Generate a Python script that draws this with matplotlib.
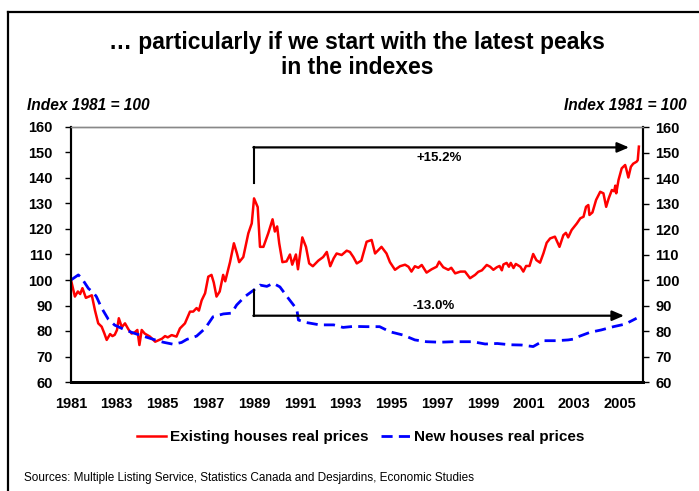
import matplotlib
matplotlib.use("Agg")
import matplotlib.pyplot as plt
from matplotlib.lines import Line2D

plt.rcParams['font.family'] = ['Liberation Sans', 'DejaVu Sans']
plt.rcParams['lines.scale_dashes'] = False

# Existing houses real prices (index 1981 = 100)
existing_years = [
    1981.0, 1981.17, 1981.3, 1981.4, 1981.5, 1981.65, 1981.91, 1982.05, 1982.19, 1982.34,
    1982.46, 1982.56, 1982.71, 1982.81, 1982.91, 1983.01, 1983.09, 1983.22, 1983.36, 1983.52,
    1983.65, 1983.79, 1983.9, 1983.99, 1984.09, 1984.22, 1984.45, 1984.68, 1984.83, 1984.98,
    1985.11, 1985.23, 1985.4, 1985.61, 1985.76, 1985.98, 1986.2, 1986.34, 1986.49, 1986.59,
    1986.71, 1986.86, 1987.0, 1987.14, 1987.24, 1987.36, 1987.5, 1987.65, 1987.74, 1987.95,
    1988.12, 1988.25, 1988.35, 1988.53, 1988.75, 1988.9, 1989.0, 1989.16, 1989.26, 1989.41,
    1989.62, 1989.81, 1989.91, 1990.01, 1990.1, 1990.24, 1990.42, 1990.57, 1990.67, 1990.83,
    1990.92, 1991.11, 1991.27, 1991.41, 1991.57, 1991.81, 1992.02, 1992.18, 1992.33, 1992.48,
    1992.61, 1992.83, 1993.05, 1993.19, 1993.34, 1993.49, 1993.69, 1993.92, 1994.14, 1994.29,
    1994.57, 1994.79, 1994.94, 1995.16, 1995.38, 1995.6, 1995.75, 1995.88, 1996.03, 1996.18,
    1996.33, 1996.54, 1996.76, 1996.98, 1997.09, 1997.27, 1997.49, 1997.62, 1997.79, 1998.02,
    1998.22, 1998.44, 1998.66, 1998.8, 1998.96, 1999.17, 1999.32, 1999.46, 1999.61, 1999.73,
    1999.83, 1999.9, 2000.04, 2000.14, 2000.22, 2000.34, 2000.44, 2000.64, 2000.77, 2000.89,
    2001.04, 2001.2, 2001.34, 2001.5, 2001.65, 2001.79, 2001.94, 2002.15, 2002.35, 2002.52,
    2002.63, 2002.73, 2002.88, 2003.11, 2003.26, 2003.4, 2003.51, 2003.61, 2003.66, 2003.79,
    2003.95, 2004.13, 2004.27, 2004.39, 2004.5, 2004.64, 2004.74, 2004.79, 2004.83, 2004.93,
    2005.07, 2005.22, 2005.27, 2005.36, 2005.47, 2005.57, 2005.72, 2005.77, 2005.82,
]
existing_vals = [
    100, 93.5, 95.5, 94.5, 96.8, 93, 94, 88, 83, 81.7,
    79, 76.5, 78.8, 78, 78.5, 80.4, 85, 81.5, 83, 80.5,
    79, 79.5, 80.4, 74.5, 80.4, 79, 77.8, 75.8, 76.4, 77,
    78, 77.5, 78.4, 77.8, 81, 83, 87.6, 87.6, 89, 88,
    92, 94.8, 101.3, 102, 99, 93.5, 95.5, 102, 99.5, 107,
    114.4, 110.5, 107, 109, 118.3, 122.2, 132, 128.6, 113, 113,
    118.3, 123.8, 119, 121, 114.4, 107, 107.3, 110, 106, 110,
    104.2, 116.7, 113, 106.5, 105.4, 107.6, 109, 111, 105.4, 108.5,
    110.4, 109.8, 111.5, 111, 109, 106.5, 107.6, 115, 115.7, 110.4,
    113, 110.4, 107, 104, 105.4, 106, 105.2, 103.3, 105.4, 104.8,
    105.9, 102.9, 104.2, 105.2, 107.2, 105, 104, 104.8, 102.6, 103.3,
    103.3, 100.7, 102, 103.2, 103.8, 105.9, 105.2, 104, 105, 105.5,
    103.8, 106.1, 106.7, 105.2, 106.7, 104.7, 106.3, 105.2, 103.3, 105.5,
    105.5, 110.2, 107.8, 106.8, 110.5, 114.6, 116.3, 117, 113, 117.6,
    118.5, 116.7, 119.6, 122.2, 124.2, 124.8, 128.7, 129.4, 125.5, 126.5,
    131.4, 134.6, 134, 128.7, 132, 135.3, 134.8, 137, 134, 139.2,
    143.8, 145.1, 143.5, 140.2, 144.4, 145.6, 146.4, 147, 152.3,
]

# New houses real prices
new_years = [
    1981.0, 1981.32, 1981.46, 1981.76, 1981.98, 1982.11, 1982.34, 1982.63, 1982.91, 1983.37,
    1983.8, 1984.22, 1984.68, 1985.03, 1985.47, 1985.83, 1986.06, 1986.49, 1986.86, 1987.21,
    1987.66, 1988.02, 1988.24, 1988.6, 1988.98, 1989.26, 1989.56, 1989.84, 1990.13, 1990.5,
    1990.87, 1990.94, 1991.3, 1991.87, 1992.48, 1992.89, 1993.34, 1993.92, 1994.49, 1994.94,
    1995.52, 1996.03, 1996.54, 1997.12, 1997.72, 1998.12, 1998.56, 1999.1, 1999.63, 2000.19,
    2000.69, 2001.2, 2001.65, 2002.22, 2002.73, 2002.95, 2003.18, 2003.69, 2004.17, 2004.71,
    2005.22, 2005.72,
]
new_vals = [
    100, 102, 100.8, 96.7, 95, 93.5, 89, 84.6, 82.3, 80.4,
    79, 77.8, 76.5, 75.6, 74.8, 75.5, 76.7, 78, 81, 85.6,
    86.7, 87, 90.2, 93.5, 96, 98, 97.5, 98.7, 97.3, 92.8,
    88.5, 84.3, 83.3, 82.4, 82.4, 81.4, 81.8, 81.7, 81.7, 79.7,
    78.4, 76.5, 75.8, 75.6, 75.8, 75.8, 75.8, 74.9, 75.1, 74.6,
    74.5, 73.9, 76.2, 76.2, 76.5, 76.8, 77.8, 79.5, 80.4, 81.7,
    82.7, 85,
]

year_ticks = list(range(1981, 2006, 2))
y_ticks = list(range(60, 161, 10))

# arrows from the 1989 peaks to the latest values
peak_year = 1989.0
up_arrow = {"y0": 138, "y": 152, "end": 2005.39, "label": "+15.2%", "lx": 1997.09, "ly": 147.8}
down_arrow = {"y0": 96, "y": 86, "end": 2005.17, "label": "-13.0%", "lx": 1996.87, "ly": 89.8}

fig = plt.figure(figsize=(6.99, 4.91), dpi=100)
ax = fig.add_axes([71 / 699, 1 - 382 / 491, 572 / 699, 255 / 491])

ax.plot(existing_years, existing_vals, color='#ff0000', lw=1.8,
        label='Existing houses real prices')
ax.plot(new_years, new_vals, color='#0000ff', lw=2.0, dashes=(8, 4.5),
        label='New houses real prices')

for arr in (up_arrow, down_arrow):
    ax.plot([peak_year, peak_year], [arr["y0"], arr["y"]], color='black', lw=1.5)
    ax.annotate('', xy=(arr["end"], arr["y"]), xytext=(peak_year - 0.03, arr["y"]),
                arrowprops=dict(arrowstyle='-|>,head_length=0.7,head_width=0.3',
                                color='black', lw=1.6, shrinkA=0, shrinkB=0))
    ax.text(arr["lx"], arr["ly"], arr["label"], ha='center', va='center',
            fontsize=9.5, fontweight='bold')

ax.set_xlim(1981, 2006)
ax.set_ylim(60, 160)
ax.set_xticks(year_ticks)
ax.set_xticklabels([str(y) for y in year_ticks])
ax.set_yticks(y_ticks)
ax.tick_params(axis='x', length=0, pad=11, labelsize=10.5)
ax.tick_params(axis='y', direction='out', length=4, width=1, pad=9, labelsize=10.5)

# right-hand scale
ax2 = ax.twinx()
ax2.set_ylim(60, 160)
ax2.set_yticks(y_ticks)
ax2.tick_params(axis='y', direction='out', length=4, width=1, pad=5, labelsize=10.5)

for lab in ax.get_xticklabels() + ax.get_yticklabels() + ax2.get_yticklabels():
    lab.set_fontweight('bold')

for a in (ax, ax2):
    a.spines['top'].set_color('#888888')
    a.spines['top'].set_linewidth(1)
    a.spines['left'].set_linewidth(1.5)
    a.spines['right'].set_linewidth(1.5)
    a.spines['bottom'].set_linewidth(2)

fig.text(0.511, 1 - 43 / 491, '\u2026 particularly if we start with the latest peaks',
         ha='center', va='center', fontsize=16.5, fontweight='bold')
fig.text(0.511, 1 - 68 / 491, 'in the indexes',
         ha='center', va='center', fontsize=16.5, fontweight='bold')
fig.text(27 / 699, 1 - 105.5 / 491, 'Index 1981 = 100', ha='left', va='center',
         fontsize=11.2, fontweight='bold', fontstyle='italic')
fig.text(687 / 699, 1 - 105.5 / 491, 'Index 1981 = 100', ha='right', va='center',
         fontsize=11.2, fontweight='bold', fontstyle='italic')

handles, labels = ax.get_legend_handles_labels()
fig.legend(handles, labels, loc='center', bbox_to_anchor=(0.516, 1 - 437 / 491), ncol=2,
           frameon=False, handlelength=1.9, columnspacing=0.8, handletextpad=0.3,
           prop={'weight': 'bold', 'size': 11})

fig.text(24 / 699, 1 - 478 / 491,
         'Sources: Multiple Listing Service, Statistics Canada and Desjardins, Economic Studies',
         ha='left', va='center', fontsize=8.5)

# outer frame of the slide
fig.add_artist(Line2D([8 / 699, 1], [1 - 12 / 491, 1 - 12 / 491], color='black', lw=1.6))
fig.add_artist(Line2D([8 / 699, 8 / 699], [0, 1 - 12 / 491], color='black', lw=1.6))

fig.savefig('out.png', dpi=100)
